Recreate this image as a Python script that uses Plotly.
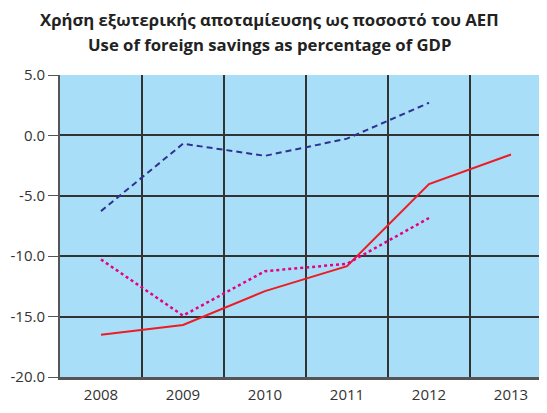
import plotly.graph_objects as go

years = ["2008", "2009", "2010", "2011", "2012", "2013"]
navy_dashed = [-6.27, -0.69, -1.69, -0.27, 2.7, None]
red_solid = [-16.5, -15.69, -12.89, -10.83, -4.03, -1.58]
magenta_dotted = [-10.27, -14.92, -11.24, -10.63, -6.84, None]
y_ticks = [5, 0, -5, -10, -15, -20]
y_tick_labels = ["5.0", "0.0", "-5.0", "-10.0", "-15.0", "-20.0"]

fig = go.Figure()
fig.add_trace(go.Scatter(x=years, y=navy_dashed, mode="lines",
                         line=dict(color="#2E3192", width=2, dash="6px,4px")))
fig.add_trace(go.Scatter(x=years, y=red_solid, mode="lines",
                         line=dict(color="#ED1C24", width=2)))
fig.add_trace(go.Scatter(x=years, y=magenta_dotted, mode="lines",
                         line=dict(color="#E6007E", width=2.5, dash="dot")))

fig.update_layout(
    width=539, height=405,
    margin=dict(l=52, r=0, t=67, b=36),
    paper_bgcolor="white", plot_bgcolor="#A9DEF9",
    showlegend=False,
    font=dict(family="Open Sans", color="#333333"),
    annotations=[
        dict(text="<b>Χρήση εξωτερικής αποταμίευσης ως ποσοστό του ΑΕΠ</b>",
             xref="paper", yref="paper", x=0.431, y=1.183, xanchor="center", yanchor="middle",
             showarrow=False, font=dict(family="Open Sans", size=16.7, color="#222222")),
        dict(text="<b>Use of foreign savings as percentage of GDP</b>",
             xref="paper", yref="paper", x=0.431, y=1.101, xanchor="center", yanchor="middle",
             showarrow=False, font=dict(family="Open Sans", size=16.7, color="#222222")),
    ],
)
fig.update_xaxes(type="category", range=[-0.5, 5.439], tickson="boundaries",
                 showgrid=True, gridcolor="#333333", gridwidth=1.8,
                 ticks="", showline=True, linecolor="#555555", linewidth=2.5,
                 automargin=False,
                 tickfont=dict(size=15, color="#333333"), ticklabelstandoff=2)
fig.update_yaxes(range=[-20, 5], tickvals=y_ticks, ticktext=y_tick_labels,
                 showgrid=True, gridcolor="#333333", gridwidth=1.8,
                 zeroline=False, showline=True, linecolor="#555555", linewidth=2,
                 mirror=False, ticks="outside", ticklen=10, tickcolor="#555555",
                 automargin=False,
                 tickfont=dict(size=15, color="#333333"))
fig.write_html("out.html")
